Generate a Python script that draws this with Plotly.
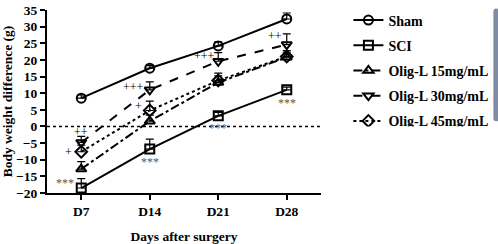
import plotly.graph_objects as go

days = ["D7", "D14", "D21", "D28"]
sham = [8.5, 17.5, 24.2, 32.3]
sci = [-18.5, -6.8, 3.2, 11.0]
olig15 = [-12.8, 1.6, 13.2, 20.8]
olig30 = [-4.8, 11.0, 19.6, 24.6]
olig45 = [-7.6, 4.8, 13.8, 21.0]
sham_err = [1.0, 0.8, 1.2, 1.8]
sci_err = [2.8, 3.0, 1.0, 0.8]
olig15_err = [2.2, 1.8, 2.0, 1.5]
olig30_err = [1.8, 2.4, 2.6, 3.2]
olig45_err = [2.0, 2.8, 2.2, 1.8]

series = [
    ("Sham", sham, sham_err, "circle-open", "solid"),
    ("SCI", sci, sci_err, "square-open", "solid"),
    ("Olig-L 15mg/mL", olig15, olig15_err, "triangle-up-open", "dashdot"),
    ("Olig-L 30mg/mL", olig30, olig30_err, "triangle-down-open", "dash"),
    ("Olig-L 45mg/mL", olig45, olig45_err, "diamond-open", "dot"),
]

FONT = "Liberation Serif"
fig = go.Figure()
for i, (name, vals, err, sym, dash) in enumerate(series):
    fig.add_trace(go.Scatter(
        x=days, y=vals, name=name, mode="lines+markers", legendgroup=str(i),
        line=dict(color="black", width=2, dash=dash),
        marker=dict(symbol=sym, size=9, color="black", line=dict(width=2, color="black")),
        error_y=dict(type="data", array=err, arrayminus=[0] * len(err), symmetric=False,
                     color="black", thickness=1.2, width=4),
    ))

# reference line at zero
fig.add_shape(type="line", xref="paper", x0=0, x1=1, yref="y", y0=0, y1=0,
              line=dict(color="black", width=1.5, dash="dot"))

marks = [
    ("D7", -17.0, "***", -16, "#555"),
    ("D7", -1.8, "++", 0, "black"),
    ("D7", -7.8, "+", -13, "black"),
    ("D14", -10.8, "***", 0, "#555"),
    ("D14", 12.0, "+++", -16, "black"),
    ("D14", 6.0, "+", -11, "black"),
    ("D21", -0.6, "***", 0, "#555"),
    ("D21", 21.2, "+++", -14, "black"),
    ("D28", 7.2, "***", 0, "#555"),
    ("D28", 27.2, "++", -12, "black"),
]
for x, y, t, xs, c in marks:
    fig.add_annotation(x=x, y=y, text=t, showarrow=False, xshift=xs,
                       font=dict(family=FONT, size=12, color=c))

fig.update_layout(
    width=498, height=244,
    margin=dict(l=47, r=170, t=5, b=51),
    paper_bgcolor="white", plot_bgcolor="white",
    font=dict(family=FONT, color="black"),
    showlegend=True,
    legend=dict(x=1.10, y=1.03, xanchor="left", yanchor="top",
                font=dict(family=FONT, size=14, color="black", weight="bold"),
                tracegroupgap=4, itemwidth=30, bgcolor="rgba(0,0,0,0)"),
    xaxis=dict(range=[-0.5, 3.5], showline=True, linecolor="black", linewidth=2,
               ticks="outside", ticklen=5, tickwidth=2, tickcolor="black",
               showgrid=False, zeroline=False, automargin=False,
               tickfont=dict(family=FONT, size=13.5, color="black", weight="bold"),
               title=dict(text="Days after surgery", standoff=14,
                          font=dict(family=FONT, size=13.5, color="black", weight="bold"))),
    yaxis=dict(range=[-20, 35], tickvals=list(range(-20, 40, 5)), showline=True,
               linecolor="black", linewidth=2, ticks="outside", ticklen=5, tickwidth=2,
               tickcolor="black", showgrid=False, zeroline=False, automargin=False,
               tickfont=dict(family=FONT, size=13.5, color="black", weight="bold"),
               title=dict(text="Body weight difference (g)", standoff=2,
                          font=dict(family=FONT, size=13.5, color="black", weight="bold"))),
)
fig.write_html("out.html", config={"displayModeBar": False},
               post_script="document.body.style.margin='0';")
